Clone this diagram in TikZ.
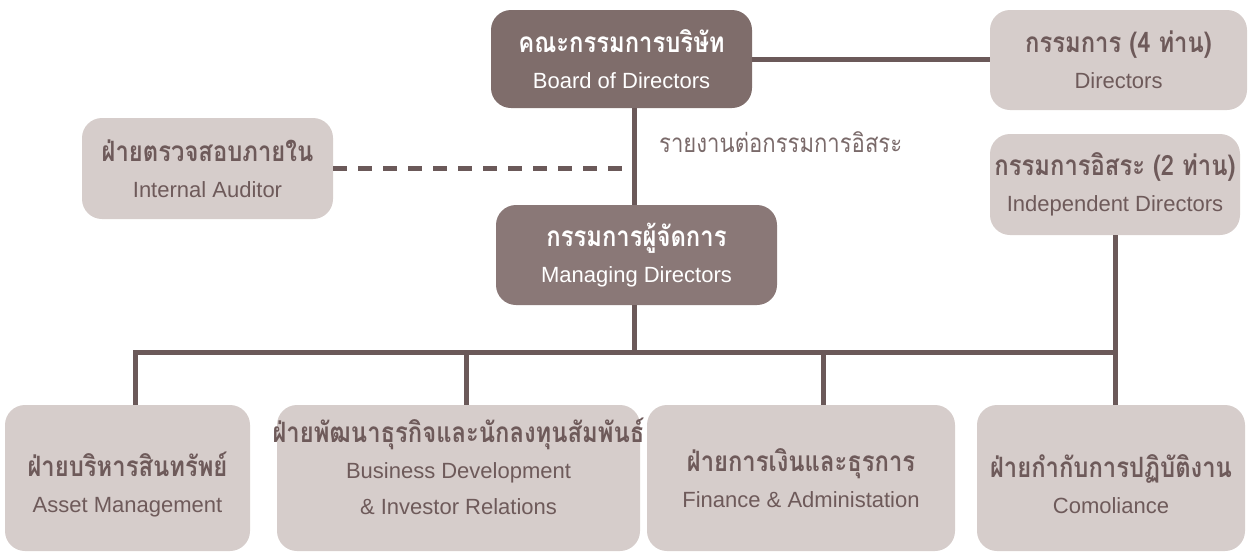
\documentclass[tikz,border=0pt]{standalone}
\usepackage{fontspec}
\setmainfont{Liberation Sans}
\newfontfamily\thaifont[Script=Thai, FakeStretch=0.85]{Loma}
\newcommand\thaiB[1]{{\thaifont\bfseries\fontsize{28}{36}\selectfont #1}}
\definecolor{darkA}{HTML}{7F6D6B}
\definecolor{darkB}{HTML}{8A7877}
\definecolor{lightbox}{HTML}{D6CDCB}
\definecolor{linec}{HTML}{6B5959}
\definecolor{txt}{HTML}{6E5A5A}
\definecolor{txtl}{HTML}{7A6A6A}
\begin{document}
\begin{tikzpicture}[x=1pt,y=-1pt,
  box/.style={rectangle, rounded corners=20pt, inner sep=0pt, align=center,
    font=\fontsize{22}{36}\selectfont},
  dbox/.style={box, fill=darkA, text=white},
  lbox/.style={box, fill=lightbox, text=txt},
  btext/.style={inner sep=0pt, align=center, text=txt, font=\fontsize{22}{36}\selectfont},
  conn/.style={draw=linec, line width=5pt}]
\useasboundingbox (0,0) rectangle (1250,552);
% top row
\node[dbox, minimum width=261pt, minimum height=98pt] (board) at (621.5,59)
  {\thaiB{คณะกรรมการบริษัท}\\Board of Directors};
\node[lbox, minimum width=257pt, minimum height=100pt] (dirs) at (1118.5,60)
  {\thaiB{กรรมการ (4 ท่าน)}\\Directors};
\node[lbox, minimum width=250pt, minimum height=101pt] (indep) at (1115,184.5)
  {\thaiB{กรรมการอิสระ (2 ท่าน)}\\Independent Directors};
\node[lbox, minimum width=251pt, minimum height=101pt] (aud) at (207.5,168.5)
  {\thaiB{ฝ่ายตรวจสอบภายใน}\\Internal Auditor};
\node[dbox, fill=darkB, minimum width=281pt, minimum height=100pt] (mgr) at (636.5,255)
  {\thaiB{กรรมการผู้จัดการ}\\Managing Directors};
\node[font=\thaifont\fontsize{26}{30}\selectfont, text=txtl, anchor=base west, inner sep=0pt]
  (lab) at (659,152) {รายงานต่อกรรมการอิสระ};
% bottom row
\node[lbox, minimum width=245pt, minimum height=146pt] (b1) at (127.5,478) {};
\node[btext] (t1) at (127.5,484) {\thaiB{ฝ่ายบริหารสินทรัพย์}\\Asset Management};
\node[lbox, minimum width=363pt, minimum height=146pt] (b2) at (458.5,478) {};
\node[btext] (t2) at (458.5,466)
  {\thaiB{ฝ่ายพัฒนาธุรกิจและนักลงทุนสัมพันธ์}\\Business Development\\\& Investor Relations};
\node[lbox, minimum width=308pt, minimum height=146pt] (b3) at (801,478) {};
\node[btext] (t3) at (801,478) {\thaiB{ฝ่ายการเงินและธุรการ}\\Finance \& Administation};
\node[lbox, minimum width=268pt, minimum height=146pt] (b4) at (1111,478) {};
\node[btext] (t4) at (1111,484) {\thaiB{ฝ่ายกำกับการปฏิบัติงาน}\\Comoliance};
% connectors
\coordinate (vx) at (634,0);
\coordinate (busL) at (135.5,352.5);
\coordinate (busR) at (1115.5,352.5);
\coordinate (d2) at (466,352.5);
\coordinate (d3) at (823,352.5);
\draw[conn] (board.east) -- (board.east -| dirs.west);
\draw[conn] (vx |- board.south) -- (vx |- mgr.north);
\draw[conn, dash pattern=on 14pt off 11pt] (aud.east) -- (aud.east -| vx);
\draw[conn] (vx |- mgr.south) -- (vx |- busL);
\draw[conn] (busL |- b1.north) -- (busL) -- (busR) -- (busR |- indep.south);
\draw[conn] (busR) -- (busR |- b4.north);
\draw[conn] (d2) -- (d2 |- b2.north);
\draw[conn] (d3) -- (d3 |- b3.north);
\end{tikzpicture}
\end{document}
